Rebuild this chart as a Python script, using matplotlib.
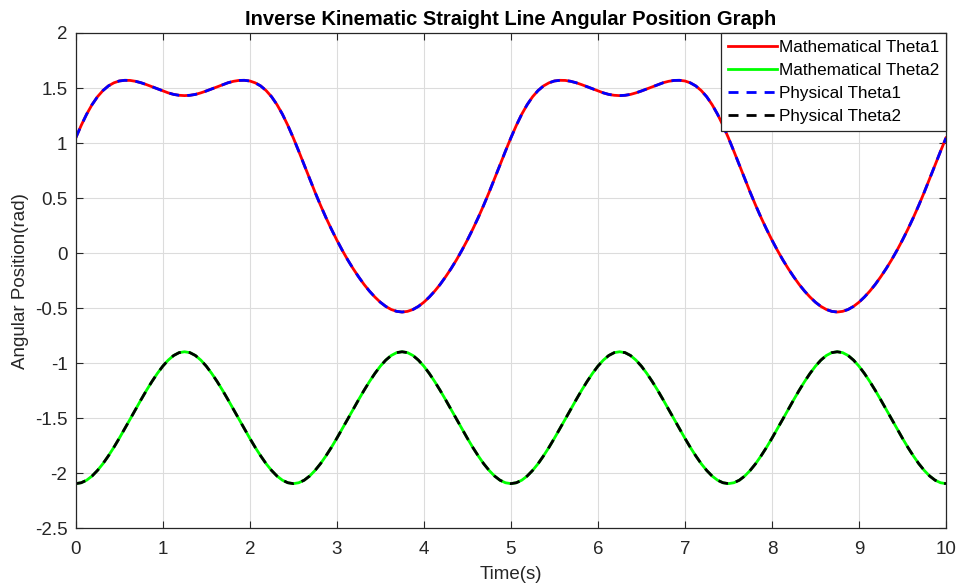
import matplotlib
matplotlib.use("Agg")
import matplotlib.pyplot as plt

# Time axis, 0 to 10 s in 0.0625 s steps (161 samples)
time_s = [i * 0.0625 for i in range(161)]

# Mathematical joint angles (rad)
math_theta1 = [
    1.047, 1.160, 1.262, 1.349, 1.421, 1.477, 1.519, 1.547, 1.564, 1.570, 1.569,
    1.561, 1.548, 1.531, 1.512, 1.492, 1.473, 1.456, 1.442, 1.434, 1.431,
    1.434, 1.442, 1.456, 1.473, 1.492, 1.512, 1.531, 1.548, 1.561, 1.569,
    1.570, 1.564, 1.547, 1.519, 1.477, 1.421, 1.349, 1.262, 1.160, 1.047,
    0.926, 0.801, 0.676, 0.553, 0.435, 0.323, 0.218, 0.119, 0.026, -0.061,
    -0.141, -0.215, -0.284, -0.345, -0.399, -0.446, -0.484, -0.512, -0.529, -0.535,
    -0.529, -0.512, -0.484, -0.446, -0.399, -0.345, -0.284, -0.215, -0.141, -0.061,
    0.026, 0.119, 0.218, 0.323, 0.435, 0.553, 0.676, 0.801, 0.926, 1.047,
    1.160, 1.262, 1.349, 1.421, 1.477, 1.519, 1.547, 1.564, 1.570, 1.569,
    1.561, 1.548, 1.531, 1.512, 1.492, 1.473, 1.456, 1.442, 1.434, 1.431,
    1.434, 1.442, 1.456, 1.473, 1.492, 1.512, 1.531, 1.548, 1.561, 1.569,
    1.570, 1.564, 1.547, 1.519, 1.477, 1.421, 1.349, 1.262, 1.160, 1.047,
    0.926, 0.801, 0.676, 0.553, 0.435, 0.323, 0.218, 0.119, 0.026, -0.061,
    -0.141, -0.215, -0.284, -0.345, -0.399, -0.446, -0.484, -0.512, -0.529, -0.535,
    -0.529, -0.512, -0.484, -0.446, -0.399, -0.345, -0.284, -0.215, -0.141, -0.061,
    0.026, 0.119, 0.218, 0.323, 0.435, 0.553, 0.676, 0.801, 0.926, 1.047,
]
math_theta2 = [
    -2.094, -2.086, -2.063, -2.025, -1.974, -1.913, -1.842, -1.765, -1.682, -1.596, -1.508,
    -1.420, -1.332, -1.247, -1.167, -1.093, -1.027, -0.972, -0.930, -0.904, -0.896,
    -0.904, -0.930, -0.972, -1.027, -1.093, -1.167, -1.247, -1.332, -1.420, -1.508,
    -1.596, -1.682, -1.765, -1.842, -1.913, -1.974, -2.025, -2.063, -2.086, -2.094,
    -2.086, -2.063, -2.025, -1.974, -1.913, -1.842, -1.765, -1.682, -1.596, -1.508,
    -1.420, -1.332, -1.247, -1.167, -1.093, -1.027, -0.972, -0.930, -0.904, -0.896,
    -0.904, -0.930, -0.972, -1.027, -1.093, -1.167, -1.247, -1.332, -1.420, -1.508,
    -1.596, -1.682, -1.765, -1.842, -1.913, -1.974, -2.025, -2.063, -2.086, -2.094,
    -2.086, -2.063, -2.025, -1.974, -1.913, -1.842, -1.765, -1.682, -1.596, -1.508,
    -1.420, -1.332, -1.247, -1.167, -1.093, -1.027, -0.972, -0.930, -0.904, -0.896,
    -0.904, -0.930, -0.972, -1.027, -1.093, -1.167, -1.247, -1.332, -1.420, -1.508,
    -1.596, -1.682, -1.765, -1.842, -1.913, -1.974, -2.025, -2.063, -2.086, -2.094,
    -2.086, -2.063, -2.025, -1.974, -1.913, -1.842, -1.765, -1.682, -1.596, -1.508,
    -1.420, -1.332, -1.247, -1.167, -1.093, -1.027, -0.972, -0.930, -0.904, -0.896,
    -0.904, -0.930, -0.972, -1.027, -1.093, -1.167, -1.247, -1.332, -1.420, -1.508,
    -1.596, -1.682, -1.765, -1.842, -1.913, -1.974, -2.025, -2.063, -2.086, -2.094,
]

# Physical (measured) angles sit right on top of the mathematical ones
phys_theta1 = list(math_theta1)
phys_theta2 = list(math_theta2)

plt.rcParams['font.family'] = ['Liberation Sans', 'DejaVu Sans']
plt.rcParams['axes.unicode_minus'] = False

fig = plt.figure(figsize=(9.6, 5.88), dpi=100)
ax = fig.add_axes([0.0789, 0.1015, 0.9065, 0.8424])

ax.plot(time_s, math_theta1, color=(1, 0, 0), linewidth=2, label='Mathematical Theta1')
ax.plot(time_s, math_theta2, color=(0, 1, 0), linewidth=2, label='Mathematical Theta2')
ax.plot(time_s, phys_theta1, color=(0, 0, 1), linewidth=2, linestyle=(0, (3.6, 2.9)),
        label='Physical Theta1')
ax.plot(time_s, phys_theta2, color='black', linewidth=2, linestyle=(0, (3.6, 2.9)),
        label='Physical Theta2')

ax.set_xlim(0, 10)
ax.set_ylim(-2.5, 2)
ax.set_xticks(range(0, 11))
ax.set_yticks([-2.5, -2, -1.5, -1, -0.5, 0, 0.5, 1, 1.5, 2])
ax.set_yticklabels(['-2.5', '-2', '-1.5', '-1', '-0.5', '0', '0.5', '1', '1.5', '2'])

ax.grid(True, color='#dcdcdc', linewidth=0.8)
ax.set_axisbelow(True)
ax.tick_params(direction='in', top=True, right=True, length=5, width=0.8,
               labelsize=13.5, colors='#262626')
ax.tick_params(axis='x', pad=9)
ax.tick_params(axis='y', pad=6)
for sp in ax.spines.values():
    sp.set_color('#262626')
    sp.set_linewidth(0.9)

ax.set_title('Inverse Kinematic Straight Line Angular Position Graph',
             fontsize=14.5, fontweight='bold', pad=6)
ax.set_xlabel('Time(s)', fontsize=13.5, color='#262626', labelpad=6)
ax.set_ylabel('Angular Position(rad)', fontsize=13.5, color='#262626', labelpad=4)

leg = ax.legend(loc='upper right', fontsize=12.3, frameon=True, fancybox=False,
                borderaxespad=0, handlelength=2.9, labelspacing=0.48,
                borderpad=0.4, handletextpad=0.1, framealpha=1)
leg.get_frame().set_edgecolor('#262626')
leg.get_frame().set_linewidth(0.9)

fig.savefig('out.png', dpi=100)
